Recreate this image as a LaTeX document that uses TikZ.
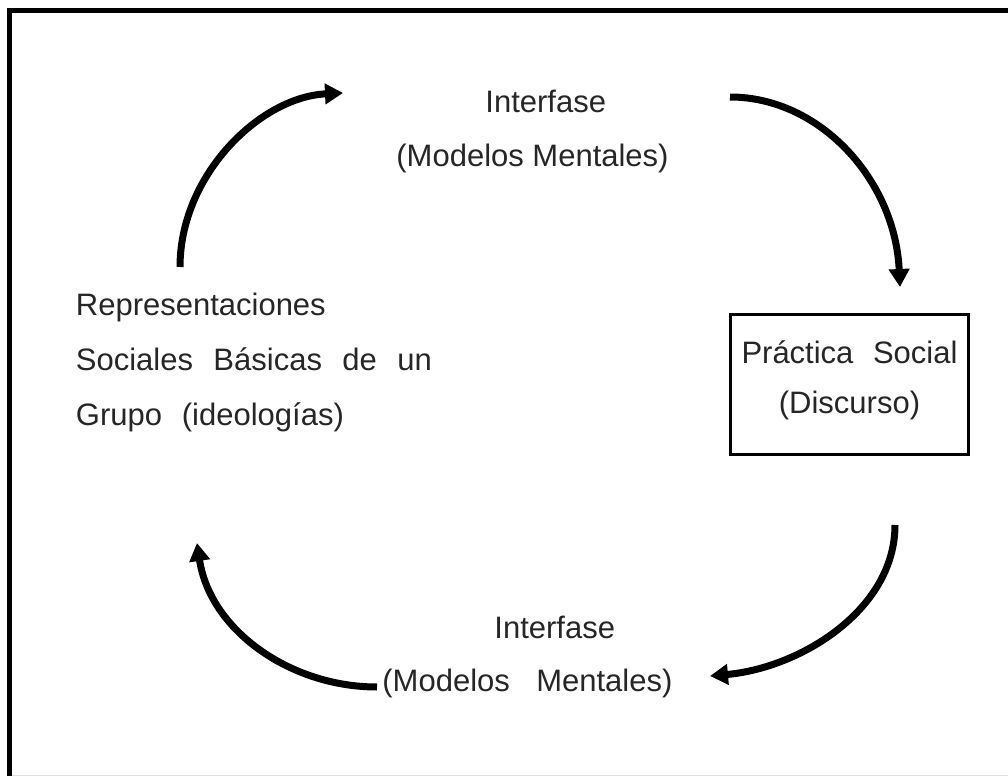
\documentclass[tikz,border=0pt]{standalone}
\usepackage{fontspec}
\setmainfont{Liberation Sans}
\usetikzlibrary{arrows.meta}
\begin{document}
\begin{tikzpicture}[x=0.5pt,y=-0.5pt,
  lbl/.style={inner sep=0pt, align=left, anchor=north west, text=black!85},
  flow/.style={line width=3.5pt, -{Triangle[length=9pt,width=10pt]}},
  framestyle/.style={line width=2.5pt},
  boxstyle/.style={draw, line width=1.5pt, minimum width=119pt, minimum height=70pt,
     inner sep=0pt, align=center, text=black!85, font=\fontsize{15.5pt}{25pt}\selectfont}]
\useasboundingbox (0,0) rectangle (1008,776);
% outer frame (cropped at right and bottom)
\draw[framestyle] (9.5,776) -- (9.5,10.5) -- (1008,10.5);
\draw[gray!25, line width=0.6pt] (12,775.4) -- (1008,775.4);
% texts
\node[lbl, font=\fontsize{15.5pt}{27.5pt}\selectfont] (rep) at (75.5,291)
  {\rule{0pt}{12pt}Representaciones\\
   \makebox[178pt][s]{Sociales Básicas de un}\\
   \makebox[134pt][s]{Grupo (ideologías)}};
\node[lbl, font=\fontsize{15.5pt}{27pt}\selectfont] (topif) at (396,88)
  {\rule{0pt}{12pt}\hspace*{44.5pt}Interfase\\
   (Modelos Mentales)};
\node[lbl, font=\fontsize{15.5pt}{26.5pt}\selectfont] (botif) at (382,614)
  {\rule{0pt}{12pt}\hspace*{56pt}Interfase\\
   \makebox[145pt][s]{(Modelos Mentales)}};
\node[boxstyle] (prac) at (849.5,384.5)
  {\rule{0pt}{12pt}\makebox[108pt][s]{Práctica Social}\\
   \rule[-8.5pt]{0pt}{8.5pt}(Discurso)};
% arrow end points
\coordinate (a1s) at (180,267);
\coordinate (a1e) at (343,93);
\coordinate (a2s) at (730,97);
\coordinate (a2e) at (900,287);
\coordinate (a3s) at (895,525);
\coordinate (a3e) at (710,676);
\coordinate (a4s) at (377,687);
\coordinate (a4e) at (197,543);
% arrows
\draw[flow] (a1s) .. controls (180,175) and (260,97) .. (a1e);
\draw[flow] (a2s) .. controls (820,97) and (895,180) .. (a2e);
\draw[flow] (a3s) .. controls (895,610) and (800,668) .. (a3e);
\draw[flow] (a4s) .. controls (290,687) and (210,630) .. (a4e);
\end{tikzpicture}
\end{document}
